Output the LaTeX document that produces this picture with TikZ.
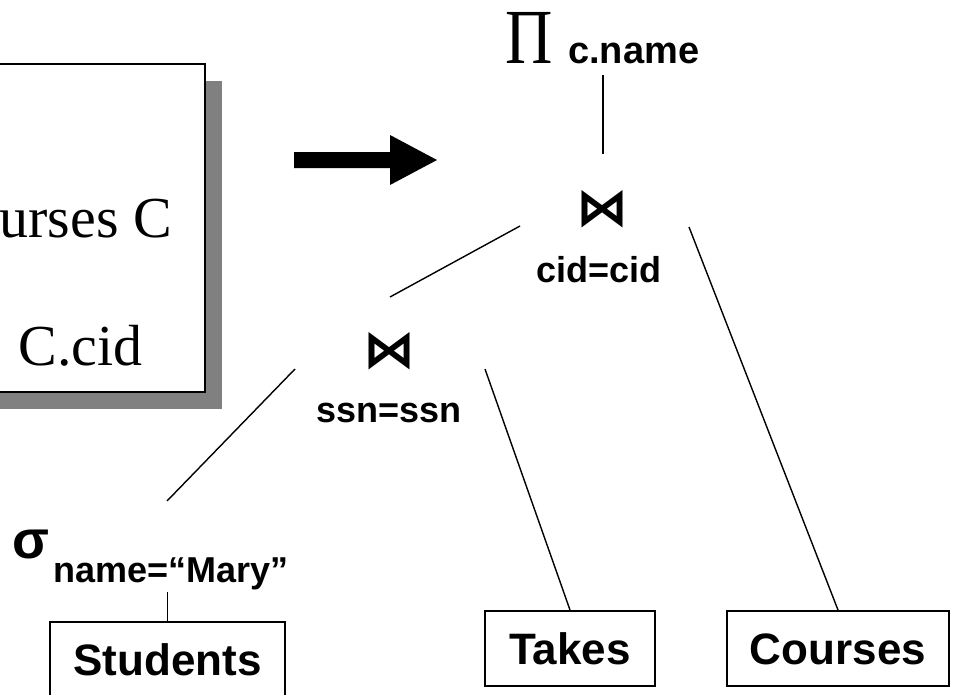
\documentclass[tikz,border=0pt]{standalone}
\usepackage{fontspec}
\setmainfont{Liberation Serif}
\newfontfamily\labelfont{Liberation Sans}
\newfontfamily\symfont{DejaVu Sans}
\begin{document}
\begin{tikzpicture}[x=1pt,y=-1pt,
  link/.style={line width=1.4pt},
  relbox/.style={draw, line width=2pt, inner sep=0pt, minimum height=75pt,
    text height=32pt, text depth=0pt,
    font=\labelfont\bfseries\fontsize{44}{48}\selectfont},
  cond/.style={inner sep=0pt, anchor=base,
    font=\labelfont\bfseries\fontsize{36}{40}\selectfont},
  joinsym/.style={inner sep=0pt, font=\symfont\bfseries\fontsize{52}{56}\selectfont},
  sqltext/.style={inner sep=0pt, anchor=base east, font=\fontsize{58}{62}\selectfont}]
\useasboundingbox (0,0) rectangle (953,694);

% SQL query box with drop shadow
\fill[black!50] (-20,81) rectangle (222,409);
\draw[line width=2pt, fill=white] (-20,64) rectangle (205,392);
\node[sqltext] (sqlA) at (172,237) {urses C};
\node[sqltext] (sqlB) at (143,365) {C.cid};

% rewrite arrow
\fill (294,152) -- (390,152) -- (390,135) -- (437,160) -- (390,185)
  -- (390,168) -- (294,168) -- cycle;

% projection
\node[inner sep=0pt, anchor=base west, font=\fontsize{78}{82}\selectfont]
  (pi) at (505,63) {\scalebox{0.84}[1]{Π}};
\node[cond, anchor=base west, font=\labelfont\bfseries\fontsize{38}{42}\selectfont]
  (piarg) at (568,63) {c.name};

% joins
\node[joinsym] (joinA) at (602,209) {⋈};
\node[cond] (joinAc) at (599,282) {cid=cid};
\node[joinsym] (joinB) at (389,351) {⋈};
\node[cond] (joinBc) at (389,422) {ssn=ssn};

% selection
\node[inner sep=0pt, anchor=base west,
  font=\labelfont\bfseries\fontsize{54}{58}\selectfont] (sel) at (12,558) {σ};
\node[cond, anchor=base west] (selarg) at (53,582) {name=“Mary”};

% base relations
\node[relbox, minimum width=235pt] (students) at (167.5,659.5) {Students};
\node[relbox, minimum width=170pt] (takes) at (570,648.5) {Takes};
\node[relbox, minimum width=222pt] (courses) at (838,648.5) {Courses};

% connector ends
\coordinate (piB) at (603,75);
\coordinate (jAtop) at (603,154);
\coordinate (jAleft) at (520,226);
\coordinate (jAright) at (689,227);
\coordinate (jBtop) at (390,297);
\coordinate (jBleft) at (295,369);
\coordinate (jBright) at (485,369);
\coordinate (selTop) at (167,501);
\coordinate (selB) at (167.5,592);

\draw[link] (piB) -- (jAtop);
\draw[link] (jAleft) -- (jBtop);
\draw[link] (jAright) -- (courses.north);
\draw[link] (jBleft) -- (selTop);
\draw[link] (jBright) -- (takes.north);
\draw[link] (selB) -- (students.north);
\end{tikzpicture}
\end{document}
